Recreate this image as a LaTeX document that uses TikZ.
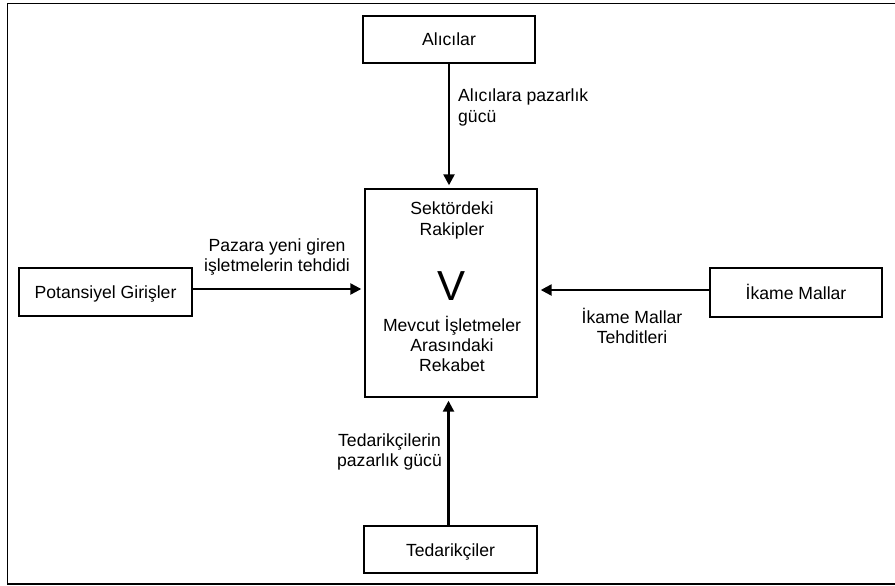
\documentclass[tikz,border=0pt]{standalone}
\usepackage{fontspec}
\setmainfont{Liberation Sans}
\usetikzlibrary{arrows.meta}
\begin{document}
\begin{tikzpicture}[x=1pt,y=-1pt,
  box/.style={draw,line width=1.4pt,inner sep=0pt},
  force/.style={line width=2.4pt,-{Triangle[length=11pt,width=11pt]},shorten >=3pt},
  txt/.style={anchor=base,inner sep=0pt,font=\fontsize{17.6}{20.2}\selectfont},
  big/.style={anchor=base,inner sep=0pt,font=\fontsize{42}{44}\selectfont}]
\useasboundingbox (0,0) rectangle (895,586);
% outer frame, open on the right
\draw[line width=1.8pt] (905,3.5) -- (7.5,3.5) -- (7.5,584) -- (905,584);

% boxes
\node[box,minimum width=172pt,minimum height=47pt] (buyers) at (449,39.5) {};
\node[box,minimum width=172pt,minimum height=208pt] (rivalry) at (451,293) {};
\node[box,minimum width=173pt,minimum height=48pt] (entrants) at (105.5,292) {};
\node[box,minimum width=172pt,minimum height=49pt] (subs) at (796,292.5) {};
\node[box,minimum width=173pt,minimum height=47pt] (suppliers) at (450.5,549.5) {};

% box texts
\node[txt] (tbuyers) at (449,46) {Alıcılar};
\node[txt] (tentrants) at (105.5,298.5) {Potansiyel Girişler};
\node[txt] (tsubs) at (796,299) {İkame Mallar};
\node[txt] (tsuppliers) at (450.5,556) {Tedarikçiler};

\node[txt] (r1) at (452,214) {Sektördeki};
\node[txt] (r2) at (452,235) {Rakipler};
\node[big] (rv) at (452,300) {V};
\node[txt] (r3) at (452,331) {Mevcut İşletmeler};
\node[txt] (r4) at (452,351) {Arasındaki};
\node[txt] (r5) at (452,371) {Rekabet};

% connectors
\draw[force] (buyers.south) -- (buyers.south |- rivalry.north);
\draw[force] ([yshift=3pt]entrants.east) -- ([yshift=3pt]entrants.east -| rivalry.west);
\draw[force] ([yshift=2.5pt]subs.west) -- ([yshift=2.5pt]subs.west -| rivalry.east);
\draw[force] ([xshift=-2pt]suppliers.north) -- ([xshift=-2pt]suppliers.north |- rivalry.south);

% connector labels
\node[txt,anchor=base west] (l1a) at (458,102) {Alıcılara pazarlık};
\node[txt,anchor=base west] (l1b) at (458,122) {gücü};
\node[txt] (l2a) at (277,251) {Pazara yeni giren};
\node[txt] (l2b) at (277,271) {işletmelerin tehdidi};
\node[txt] (l3a) at (632,323) {İkame Mallar};
\node[txt] (l3b) at (632,343) {Tehditleri};
\node[txt] (l4a) at (389.5,446) {Tedarikçilerin};
\node[txt] (l4b) at (389.5,466) {pazarlık gücü};
\end{tikzpicture}
\end{document}
